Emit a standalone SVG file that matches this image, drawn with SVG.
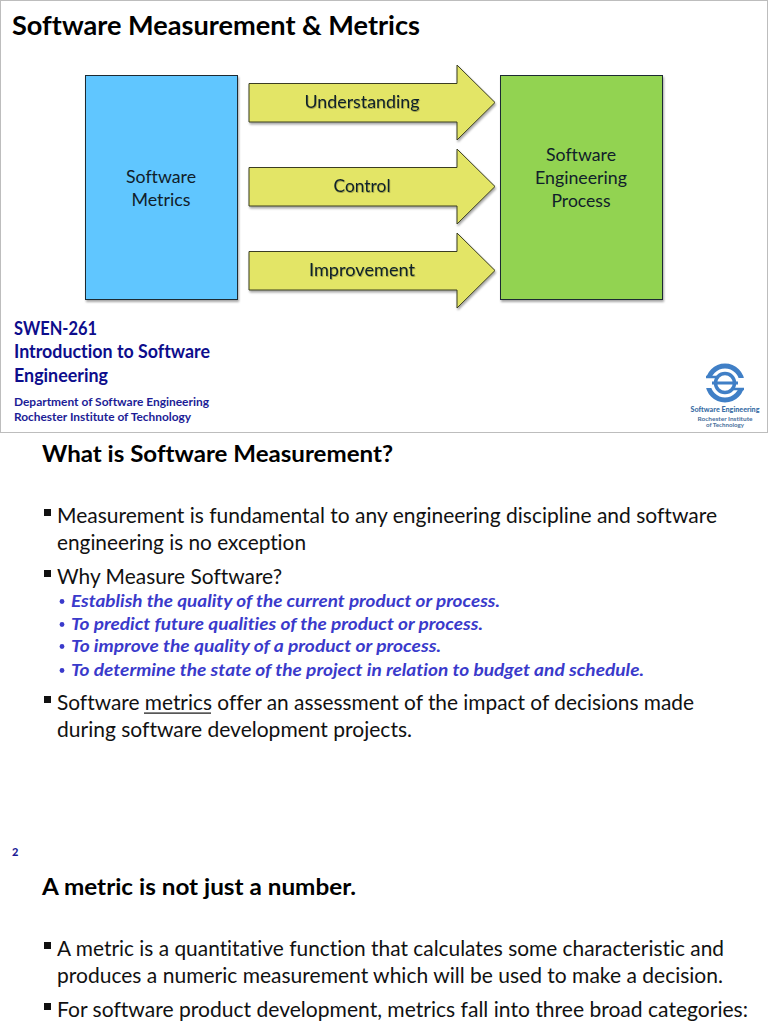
<svg xmlns="http://www.w3.org/2000/svg" width="768" height="1024" viewBox="0 0 768 1024">
<style>
text{font-family:Lato,"Open Sans","Liberation Sans",sans-serif;font-variant-ligatures:none}
.box{stroke:#1a2a33;stroke-width:1}
.arr{fill:#e3e566;stroke:#3a3d20;stroke-width:1}
.lbl{font-size:18px;fill:#10202a;text-anchor:middle}
.body{font-size:21.5px;fill:#111}
.head{font-size:23.5px;font-weight:700;fill:#000}
.em{font-size:17.5px;font-weight:700;font-style:italic;fill:#3a3acb}
.dot{fill:#3a3acb}
.navy{font-size:18px;font-weight:700;fill:#0d0d8c}
.dept{font-size:12px;font-weight:700;fill:#1c1c96}
.bul{fill:#111}
</style>
<defs>
<filter id="sh" x="-10%" y="-10%" width="120%" height="120%"><feDropShadow dx="1" dy="2" stdDeviation="1.2" flood-color="#000" flood-opacity="0.35"/></filter>
<filter id="ts" x="-10%" y="-20%" width="120%" height="150%"><feDropShadow dx="0.6" dy="1" stdDeviation="0.7" flood-color="#000" flood-opacity="0.3"/></filter>
<filter id="soft"><feGaussianBlur stdDeviation="0.45"/></filter>
<path id="arrow" d="M249 83.5H457V65L495 102.5L457 140V122H249Z"/>
</defs>
<rect width="768" height="1024" fill="#fff"/>
<rect x="0.5" y="0.5" width="767" height="432" fill="#fff" stroke="#bdbdbd"/>
<text x="12" y="35" font-size="26.5" font-weight="700" fill="#000" textLength="408" lengthAdjust="spacingAndGlyphs">Software Measurement &amp; Metrics</text>
<g id="connectors">
<use href="#arrow" class="arr" filter="url(#sh)"/>
<use href="#arrow" class="arr" y="84" filter="url(#sh)"/>
<use href="#arrow" class="arr" y="168" filter="url(#sh)"/>
</g>
<g id="node-metrics">
<rect class="box" x="85.5" y="75.5" width="152" height="224" fill="#61c6ff" filter="url(#sh)"/>
<text class="lbl" x="161" y="183" textLength="70" lengthAdjust="spacingAndGlyphs">Software</text>
<text class="lbl" x="161" y="206" textLength="59" lengthAdjust="spacingAndGlyphs">Metrics</text>
</g>
<g id="node-process">
<rect class="box" x="500.5" y="75.5" width="162" height="224" fill="#92d351" filter="url(#sh)"/>
<text class="lbl" x="581" y="161" textLength="70" lengthAdjust="spacingAndGlyphs">Software</text>
<text class="lbl" x="581" y="184" textLength="92" lengthAdjust="spacingAndGlyphs">Engineering</text>
<text class="lbl" x="581" y="207" textLength="59" lengthAdjust="spacingAndGlyphs">Process</text>
</g>
<g id="node-understanding"><text class="lbl" x="362" y="108" textLength="115" lengthAdjust="spacingAndGlyphs" filter="url(#ts)">Understanding</text></g>
<g id="node-control"><text class="lbl" x="362" y="192" textLength="57" lengthAdjust="spacingAndGlyphs" filter="url(#ts)">Control</text></g>
<g id="node-improvement"><text class="lbl" x="362" y="276" textLength="106" lengthAdjust="spacingAndGlyphs" filter="url(#ts)">Improvement</text></g>
<text class="navy" x="14" y="335" textLength="83" lengthAdjust="spacingAndGlyphs">SWEN-261</text>
<text class="navy" x="14" y="358" textLength="196" lengthAdjust="spacingAndGlyphs">Introduction to Software</text>
<text class="navy" x="14" y="382" textLength="94" lengthAdjust="spacingAndGlyphs">Engineering</text>
<text class="dept" x="14" y="406" textLength="195" lengthAdjust="spacingAndGlyphs">Department of Software Engineering</text>
<text class="dept" x="14" y="421" textLength="177" lengthAdjust="spacingAndGlyphs">Rochester Institute of Technology</text>
<g id="logo">
<g filter="url(#soft)">
<circle cx="725" cy="383" r="17" fill="none" stroke="#3f7fc6" stroke-width="5"/>
<rect x="703" y="378" width="44" height="10" fill="#fff"/>
<circle cx="725" cy="383" r="9.5" fill="none" stroke="#3f7fc6" stroke-width="3.5"/>
<rect x="712" y="381.5" width="26" height="3" fill="#3f7fc6"/>
<path d="M706 377H718M732 389H744" stroke="#3f7fc6" stroke-width="2.5"/>
</g>
<text x="725" y="412" font-size="7.2" font-weight="900" fill="#3a6ea5" text-anchor="middle" textLength="69" lengthAdjust="spacingAndGlyphs">Software Engineering</text>
<text x="725" y="421" font-size="5.2" font-weight="700" fill="#4a6f9c" text-anchor="middle" textLength="55" lengthAdjust="spacingAndGlyphs">Rochester Institute</text>
<text x="725" y="427" font-size="5.2" font-weight="700" fill="#4a6f9c" text-anchor="middle" textLength="38" lengthAdjust="spacingAndGlyphs">of Technology</text>
</g>
<text class="head" x="42" y="462" textLength="351" lengthAdjust="spacingAndGlyphs">What is Software Measurement?</text>
<rect class="bul" x="44" y="509" width="7" height="7"/>
<text class="body" x="57" y="523" textLength="660" lengthAdjust="spacingAndGlyphs">Measurement is fundamental to any engineering discipline and software</text>
<text class="body" x="57" y="550" textLength="249" lengthAdjust="spacingAndGlyphs">engineering is no exception</text>
<rect class="bul" x="44" y="570" width="7" height="7"/>
<text class="body" x="57" y="584" textLength="225" lengthAdjust="spacingAndGlyphs">Why Measure Software?</text>
<circle class="dot" cx="62" cy="601.5" r="2.4"/>
<text class="em" x="71" y="607" textLength="429" lengthAdjust="spacingAndGlyphs">Establish the quality of the current product or process.</text>
<circle class="dot" cx="62" cy="624.5" r="2.4"/>
<text class="em" x="71" y="630" textLength="412" lengthAdjust="spacingAndGlyphs">To predict future qualities of the product or process.</text>
<circle class="dot" cx="62" cy="646.5" r="2.4"/>
<text class="em" x="71" y="652" textLength="370" lengthAdjust="spacingAndGlyphs">To improve the quality of a product or process.</text>
<circle class="dot" cx="62" cy="670.5" r="2.4"/>
<text class="em" x="71" y="676" textLength="573" lengthAdjust="spacingAndGlyphs">To determine the state of the project in relation to budget and schedule.</text>
<rect class="bul" x="44" y="696" width="7" height="7"/>
<text class="body" x="57" y="710" textLength="637" lengthAdjust="spacingAndGlyphs">Software metrics offer an assessment of the impact of decisions made</text>
<rect x="144" y="712.5" width="67" height="1.2" fill="#111"/>
<text class="body" x="57" y="737" textLength="355" lengthAdjust="spacingAndGlyphs">during software development projects.</text>
<text x="12" y="856" font-size="11" font-weight="900" fill="#1c1c96">2</text>
<text class="head" x="42" y="895" textLength="314" lengthAdjust="spacingAndGlyphs">A metric is not just a number.</text>
<rect class="bul" x="44" y="942" width="7" height="7"/>
<text class="body" x="57" y="956" textLength="667" lengthAdjust="spacingAndGlyphs">A metric is a quantitative function that calculates some characteristic and</text>
<text class="body" x="57" y="983" textLength="666" lengthAdjust="spacingAndGlyphs">produces a numeric measurement which will be used to make a decision.</text>
<rect class="bul" x="44" y="1003" width="7" height="7"/>
<text class="body" x="57" y="1017" textLength="691" lengthAdjust="spacingAndGlyphs">For software product development, metrics fall into three broad categories:</text>
</svg>
